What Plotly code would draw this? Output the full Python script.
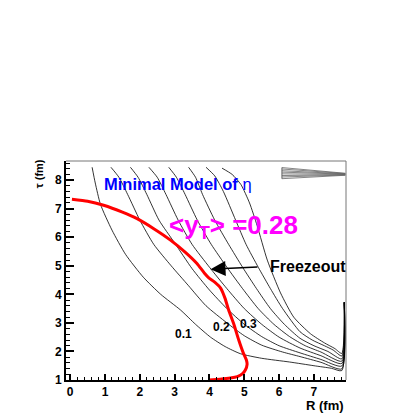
import plotly.graph_objects as go

# ---- data ----
freeze_r = [0.05, 0.5, 0.96, 1.5, 1.92, 2.4, 2.88, 3.3, 3.64, 3.85, 3.98, 4.15, 4.32, 4.45, 4.55, 4.7, 4.84, 4.97, 5.06, 5.08, 5.03, 4.95, 4.80, 4.6, 4.3, 3.98]
freeze_t = [7.33, 7.26, 7.12, 6.88, 6.65, 6.3, 5.90, 5.48, 5.08, 4.75, 4.58, 4.43, 4.22, 3.85, 3.45, 2.95, 2.40, 1.95, 1.70, 1.55, 1.35, 1.22, 1.12, 1.07, 1.03, 1.0]

c1_r = [0.63, 0.72, 0.87, 1.2, 1.59, 2.1, 2.6, 3.17, 3.6, 4.03, 4.45, 4.89, 5.5, 6.3, 7.0, 7.5, 7.8, 7.87]
c1_t = [8.45, 7.9, 7.15, 6.25, 5.4, 4.6, 4.0, 3.45, 2.95, 2.5, 2.17, 1.92, 1.76, 1.63, 1.5, 1.41, 1.33, 3.72]
c2_r = [1.17, 1.4, 1.65, 2.0, 2.4, 2.9, 3.4, 3.9, 4.5, 5.0, 5.5, 6.1, 6.6, 7.2, 7.8, 7.87]
c2_t = [8.45, 8.1, 7.5, 6.6, 5.75, 5.0, 4.3, 3.6, 3.0, 2.55, 2.22, 1.98, 1.82, 1.62, 1.39, 3.72]
c3_r = [1.73, 1.95, 2.2, 2.55, 3.0, 3.5, 4.0, 4.5, 5.0, 5.5, 6.0, 6.6, 7.2, 7.8, 7.87]
c3_t = [8.45, 8.1, 7.5, 6.6, 5.8, 4.9, 4.15, 3.5, 2.95, 2.52, 2.2, 1.95, 1.72, 1.49, 3.72]
c4_r = [2.26, 2.5, 2.75, 3.1, 3.5, 4.0, 4.5, 5.0, 5.5, 6.0, 6.6, 7.2, 7.8, 7.87]
c4_t = [8.45, 8.1, 7.5, 6.6, 5.75, 4.95, 4.2, 3.5, 2.95, 2.5, 2.12, 1.85, 1.58, 3.72]
c5_r = [2.83, 3.05, 3.3, 3.65, 4.05, 4.5, 4.95, 5.4, 5.85, 6.3, 6.75, 7.2, 7.8, 7.87]
c5_t = [8.45, 8.1, 7.5, 6.6, 5.75, 4.95, 4.2, 3.5, 2.95, 2.52, 2.2, 1.98, 1.66, 3.72]
c6_r = [3.40, 3.6, 3.8, 4.15, 4.55, 4.95, 5.35, 5.75, 6.15, 6.6, 7.0, 7.4, 7.8, 7.87]
c6_t = [8.45, 8.1, 7.5, 6.6, 5.75, 4.95, 4.2, 3.5, 2.95, 2.46, 2.2, 2.0, 1.74, 3.72]
c7_r = [3.90, 4.15, 4.4, 4.75, 5.05, 5.4, 5.75, 6.1, 6.6, 6.95, 7.3, 7.55, 7.8, 7.87]
c7_t = [8.45, 8.15, 7.6, 6.6, 5.75, 4.95, 4.2, 3.5, 2.69, 2.4, 2.2, 2.05, 1.84, 3.72]
c8_r = [4.36, 4.65, 4.9, 5.15, 5.37, 5.66, 6.04, 6.42, 6.9, 7.3, 7.6, 7.8, 7.87]
c8_t = [8.42, 8.2, 7.85, 7.2, 6.4, 5.2, 4.05, 3.2, 2.62, 2.3, 2.1, 1.93, 3.72]

band_left_t = [8.44, 8.39, 8.33, 8.28, 8.22, 8.16, 8.11, 8.05]
band_right_t = [8.24, 8.23, 8.22, 8.21, 8.20, 8.19, 8.18, 8.17]
band_r = [6.08, 7.90]

x_ticks = [0, 1, 2, 3, 4, 5, 6, 7]
y_ticks = [1, 2, 3, 4, 5, 6, 7, 8]

contours = [(c1_r, c1_t), (c2_r, c2_t), (c3_r, c3_t), (c4_r, c4_t),
            (c5_r, c5_t), (c6_r, c6_t), (c7_r, c7_t), (c8_r, c8_t)]

fig = go.Figure()
for r, t in contours:
    fig.add_trace(go.Scatter(x=r, y=t, mode="lines",
                             line=dict(color="black", width=0.8, shape="spline", smoothing=0.6),
                             hoverinfo="skip", showlegend=False))
for yl, yr in zip(band_left_t, band_right_t):
    fig.add_trace(go.Scatter(x=band_r, y=[yl, yr], mode="lines",
                             line=dict(color="#666666", width=0.8),
                             hoverinfo="skip", showlegend=False))
fig.add_trace(go.Scatter(x=[band_r[0], band_r[0]], y=[band_left_t[0], band_left_t[-1]], mode="lines",
                         line=dict(color="#444444", width=0.8), hoverinfo="skip", showlegend=False))

fig.add_trace(go.Scatter(x=freeze_r, y=freeze_t, mode="lines",
                         line=dict(color="#ff0000", width=3, shape="spline", smoothing=0.5),
                         hoverinfo="skip", showlegend=False))

tickfont = dict(family="Liberation Sans", size=12, color="black", weight="bold")
fig.update_xaxes(range=[-0.12, 7.92], tickvals=x_ticks, ticks="inside", ticklen=6, tickwidth=1.5,
                 tickcolor="black", showline=True, linecolor="black", linewidth=2,
                 showgrid=False, zeroline=False, tickfont=tickfont,
                 minor=dict(dtick=0.2, ticks="inside", ticklen=3, tickwidth=1, tickcolor="black"))
fig.update_yaxes(range=[1.0, 8.67], tickvals=y_ticks, ticks="inside", ticklen=8, tickwidth=1.5,
                 tickcolor="black", showline=True, linecolor="black", linewidth=2,
                 showgrid=False, zeroline=False, tickfont=tickfont,
                 minor=dict(dtick=0.2, ticks="inside", ticklen=4, tickwidth=1, tickcolor="black"))

# top and right frame
fig.add_shape(type="line", xref="paper", yref="paper", x0=0, x1=1, y0=1, y1=1,
              line=dict(color="#777777", width=1))
fig.add_shape(type="line", xref="paper", yref="paper", x0=1, x1=1, y0=0, y1=1,
              line=dict(color="#777777", width=1))

bold = dict(family="Liberation Sans", color="black", weight="bold")
fig.add_annotation(x=0.925, y=7.88, xref="x", yref="y", xanchor="left", yanchor="middle",
                   text="Minimal Model of <span style='font-weight:normal'>η</span>", showarrow=False,
                   font=dict(family="Liberation Sans", size=16.5, color="#0000ff", weight="bold"))
fig.add_annotation(x=2.78, y=6.36, xref="x", yref="y", xanchor="left", yanchor="middle",
                   text="&lt;y<sub>T</sub>&gt; =0.28", showarrow=False,
                   font=dict(family="Liberation Sans", size=26, color="#ff00ff", weight="bold"))
fig.add_annotation(x=5.67, y=4.99, xref="x", yref="y", xanchor="left", yanchor="middle",
                   text="Freezeout", showarrow=False, font=dict(size=16, **bold))
fig.add_annotation(x=4.03, y=4.88, ax=5.42, ay=4.96, xref="x", yref="y", axref="x", ayref="y",
                   text="", showarrow=True, arrowhead=2, arrowsize=2, arrowwidth=1.5,
                   arrowcolor="black")
for lbl, lx, ly in [("0.1", 3.26, 2.60), ("0.2", 4.34, 2.84), ("0.3", 5.11, 2.96)]:
    fig.add_annotation(x=lx, y=ly, xref="x", yref="y", text=lbl, showarrow=False,
                       font=dict(size=12, **bold))

fig.add_annotation(x=-0.0965, y=0.944, xref="paper", yref="paper", xanchor="center",
                   yanchor="middle", text="τ (fm)", textangle=-90, showarrow=False,
                   font=dict(size=11, **bold))
fig.add_annotation(x=1.0, y=-0.118, xref="paper", yref="paper",
                   xanchor="right", yanchor="middle", text="R (fm)", showarrow=False,
                   font=dict(size=13, **bold))

fig.update_layout(width=407, height=407, plot_bgcolor="white", paper_bgcolor="white",
                  margin=dict(l=58, r=69, t=153, b=35, autoexpand=False))

fig.write_html("out.html")
